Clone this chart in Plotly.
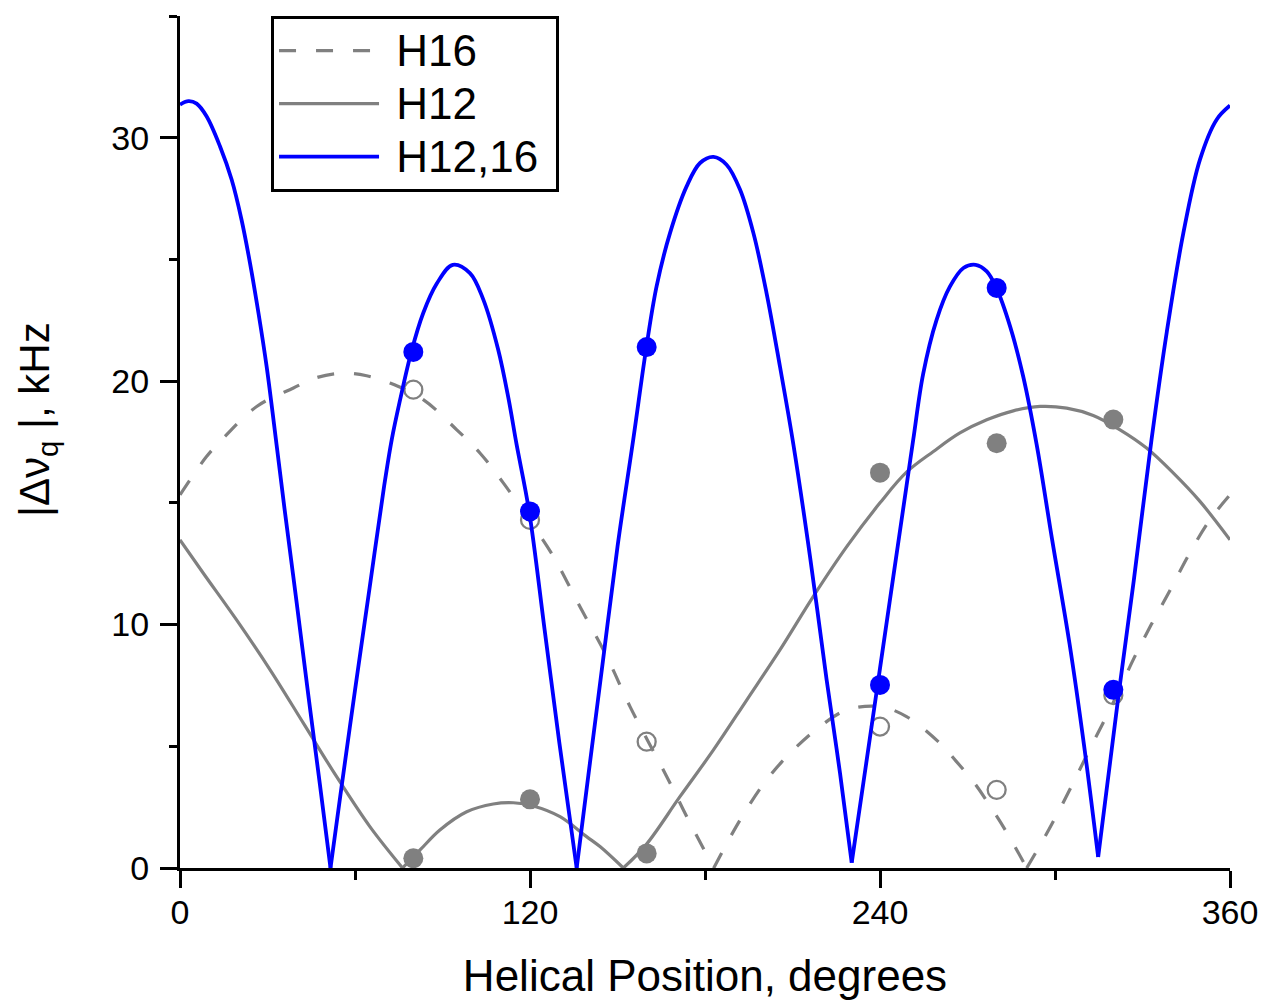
import plotly.graph_objects as go

# ---- data (degrees, kHz); None separates branches at the zero crossings
h1216_deg = [0, 2.9, 5.7, 9.1, 13.7, 17.7, 21.1, 24.0, 26.9, 29.7, 33.1, 36.0, 40.0, 44.0, 48.0, 51.6, None,
             51.6, 55.0, 60.0, 65.0, 70.0, 72.6, 75.4, 79.3, 83.4, 88.0, 93.5, 99.4, 104.0, 109.1, 112.6, 115.4, 119.7, 125.0, 130.0, 136.0, None,
             136.0, 140.0, 145.0, 150.0, 155.4, 159.9, 163.4, 168.0, 173.7, 178.3, 182.9, 187.4, 192.0, 196.6, 201.1, 205.7, 210.3, 216.0, 221.7, 226.3, 230.3, None,
             230.3, 234.3, 240.0, 244.6, 249.1, 251.4, 254.8, 259.4, 264.0, 268.6, 272.8, 276.6, 279.9, 284.6, 289.1, 293.7, 299.0, 305.0, 310.0, 314.8, None,
             314.8, 318.0, 322.0, 327.0, 333.1, 338.3, 344.0, 349.7, 355.4, 360.0]
h1216_khz = [31.36, 31.5, 31.4, 30.88, 29.65, 28.28, 26.63, 24.85, 22.8, 20.6, 17.4, 14.6, 10.9, 7.1, 3.4, 0.0, None,
             0.0, 3.0, 7.3, 11.5, 15.7, 17.6, 19.2, 21.2, 22.8, 24.0, 24.78, 24.44, 23.35, 21.29, 19.3, 17.4, 14.65, 9.8, 5.2, 0.0, None,
             0.0, 3.8, 8.5, 13.2, 17.6, 21.4, 23.89, 26.08, 28.0, 28.96, 29.21, 28.89, 27.87, 26.08, 23.62, 20.6, 17.4, 12.8, 7.73, 3.89, 0.22, None,
             0.22, 3.5, 8.2, 12.0, 15.7, 17.6, 20.3, 22.52, 23.89, 24.65, 24.78, 24.51, 23.83, 22.25, 20.19, 17.4, 13.5, 9.2, 5.0, 0.45, None,
             0.45, 3.5, 7.3, 11.8, 17.6, 22.0, 26.08, 29.1, 30.74, 31.32]

h12_deg = [0, 8.0, 19.4, 30.9, 42.3, 53.7, 65.1, 76.3, None,
           76.3, 82.3, 89.1, 98.3, 107.4, 114.3, 121.1, 130.3, 139.4, 144.0, 152.0, None,
           152.0, 159.7, 171.4, 182.9, 194.3, 205.7, 217.1, 228.6, 240.0, 249.1, 258.3, 267.4, 276.6, 285.7,
           294.9, 304.0, 313.1, 322.3, 331.4, 340.6, 349.7, 360.0]
h12_khz = [13.48, 12.11, 10.19, 8.14, 5.95, 3.75, 1.70, 0.0, None,
           0.0, 0.74, 1.56, 2.31, 2.63, 2.68, 2.55, 2.11, 1.29, 0.88, 0.0, None,
           0.0, 0.94, 2.93, 4.85, 6.9, 8.96, 11.15, 13.2, 15.0, 16.26, 17.11, 17.87, 18.41, 18.78,
           18.96, 18.89, 18.59, 18.0, 17.25, 16.22, 15.06, 13.48]

h16_deg = [0, 9.1, 15.4, 26.3, 38.9, 47.0, 56.0, 64.0, 72.0, 83.4, 94.9, 102.9, 110.9, 119.7, 128.0, 137.1,
           146.3, 154.3, 166.9, 174.9, 183.0, None,
           183.0, 192.0, 201.1, 210.3, 219.4, 228.6, 240.0, 249.1, 260.6, 266.0, 272.0, 278.0, 284.0, 290.3, None,
           290.3, 298.0, 305.0, 312.0, 320.0, 327.0, 333.0, 339.4, 346.0, 353.1, 360.0]
h16_khz = [15.33, 16.9, 17.73, 18.96, 19.72, 20.15, 20.33, 20.22, 19.92, 19.24, 18.0, 17.04, 15.81, 14.3, 12.8, 10.74,
           8.69, 6.63, 3.75, 1.84, 0.0, None,
           0.0, 1.97, 3.62, 4.85, 5.81, 6.49, 6.63, 6.22, 5.12, 4.4, 3.55, 2.5, 1.35, 0.0, None,
           0.0, 1.6, 3.2, 4.9, 6.8, 8.6, 10.0, 11.4, 12.9, 14.3, 15.33]

# measured points
pos_deg = [80, 120, 160, 240, 280, 320]
meas_h1216 = [21.2, 14.65, 21.4, 7.52, 23.83, 7.32]
meas_h12 = [0.4, 2.82, 0.6, 16.24, 17.45, 18.42]
meas_h16 = [19.65, 14.3, 5.19, 5.81, 3.21, 7.1]

series_names = ["H16", "H12", "H12,16"]
x_ticks = [0, 120, 240, 360]
x_minor = [60, 180, 300]
y_ticks = [0, 10, 20, 30]
y_minor = [5, 15, 25, 35]

GRAY = "#808080"
BLUE = "#0000FF"
FONT = "Arial, Liberation Sans, sans-serif"


def legend_label(name):
    return '<span style="font-size:44px">\u00a0' + name + '\u00a0</span>'


fig = go.Figure()
fig.add_trace(go.Scatter(x=h16_deg, y=h16_khz, mode="lines", name=legend_label(series_names[0]),
                         line=dict(color=GRAY, width=3.2, dash="17px,20px", shape="spline"),
                         connectgaps=False))
fig.add_trace(go.Scatter(x=h12_deg, y=h12_khz, mode="lines", name=legend_label(series_names[1]),
                         line=dict(color=GRAY, width=3.2, shape="spline"), connectgaps=False))
fig.add_trace(go.Scatter(x=pos_deg, y=meas_h16, mode="markers", showlegend=False,
                         marker=dict(symbol="circle-open", size=18, color=GRAY,
                                     line=dict(width=2.3, color=GRAY))))
fig.add_trace(go.Scatter(x=pos_deg, y=meas_h12, mode="markers", showlegend=False,
                         marker=dict(symbol="circle", size=20, color=GRAY, line=dict(width=0))))
fig.add_trace(go.Scatter(x=h1216_deg, y=h1216_khz, mode="lines", name=legend_label(series_names[2]),
                         line=dict(color=BLUE, width=3.8, shape="spline"), connectgaps=False))
fig.add_trace(go.Scatter(x=pos_deg, y=meas_h1216, mode="markers", showlegend=False,
                         marker=dict(symbol="circle", size=20, color=BLUE, line=dict(width=0))))

fig.update_layout(
    template="none",
    width=1267, height=1002,
    margin=dict(l=180, r=37, t=16, b=134, pad=0, autoexpand=False),
    paper_bgcolor="white", plot_bgcolor="white",
    font=dict(family=FONT, size=34, color="black"),
    showlegend=True,
    legend=dict(x=0.0867, y=1.0, xanchor="left", yanchor="top",
                bgcolor="white", bordercolor="black", borderwidth=3,
                font=dict(family=FONT, size=38.5, color="black"),
                itemwidth=100, tracegroupgap=0),
    annotations=[dict(text="|\u0394\u03bd<sub>q</sub> |, kHz", textangle=-90,
                      xref="paper", yref="paper", x=-0.1352, y=0.526,
                      xanchor="center", yanchor="middle", showarrow=False,
                      font=dict(family=FONT, size=42, color="black"))],
)
fig.update_xaxes(range=[0, 360], tickmode="array", tickvals=x_ticks, ticktext=[str(v) for v in x_ticks],
                 ticks="outside", ticklen=17, tickwidth=3, tickcolor="black",
                 showline=True, linewidth=3, linecolor="black", mirror=False,
                 showgrid=False, zeroline=False, automargin=False, ticklabelstandoff=-5,
                 minor=dict(tickmode="array", tickvals=x_minor, ticks="outside", ticklen=9, tickwidth=3, tickcolor="black"),
                 tickfont=dict(size=34),
                 title=dict(text="Helical Position, degrees", font=dict(size=44), standoff=31))
fig.update_yaxes(range=[0, 35], tickmode="array", tickvals=y_ticks, ticktext=[str(v) for v in y_ticks],
                 ticks="outside", ticklen=17, tickwidth=3, tickcolor="black",
                 showline=True, linewidth=3, linecolor="black", mirror=False,
                 showgrid=False, zeroline=False, automargin=False, ticklabelstandoff=4,
                 minor=dict(tickmode="array", tickvals=y_minor, ticks="outside", ticklen=8, tickwidth=3, tickcolor="black"),
                 tickfont=dict(size=34))

fig.write_html("out.html", config={"displayModeBar": False},
               post_script="document.body.style.margin='0';document.body.style.overflow='hidden';")
